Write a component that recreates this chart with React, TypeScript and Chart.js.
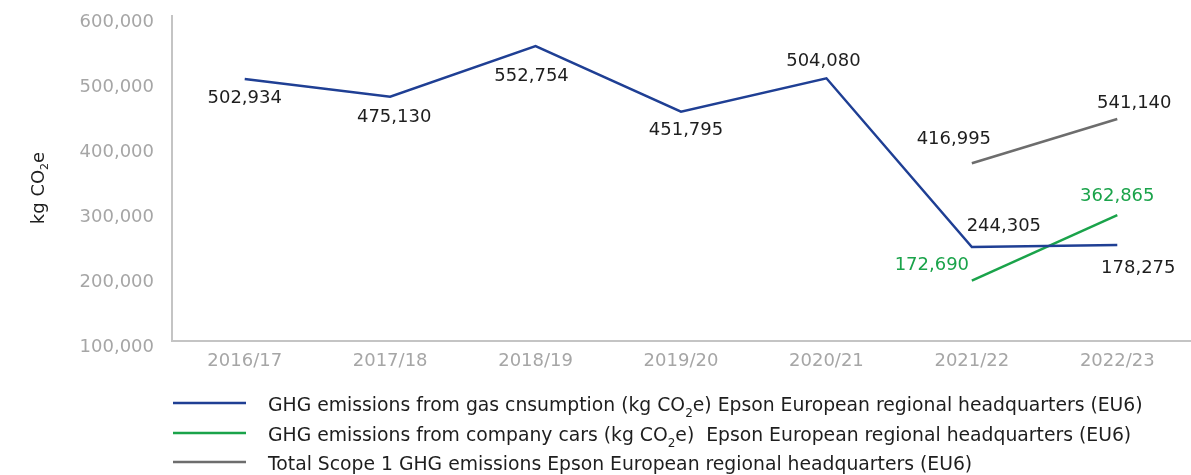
import React, { useEffect, useRef } from 'react';
import { Chart, registerables } from 'chart.js';

Chart.register(...registerables);

// ---------- data ----------
const categories = ['2016/17', '2017/18', '2018/19', '2019/20', '2020/21', '2021/22', '2022/23'];

const gasValues = [503000, 475800, 553800, 452800, 504200, 244600, 247700];
const carValues = [null, null, null, null, null, 192800, 293800];
const totalValues = [null, null, null, null, null, 373400, 441500];

// data labels as printed on the reference
const gasLabels = ['502,934', '475,130', '552,754', '451,795', '504,080', '244,305', '178,275'];
const carLabels = [null, null, null, null, null, '172,690', '362,865'];
const totalLabels = [null, null, null, null, null, '416,995', '541,140'];

const yMin = 100000;
const yMax = 600000;
const yStep = 100000;

const yAxisTitle = 'kg CO₂e';
const seriesNames = [
  'GHG emissions from gas cnsumption (kg CO₂e) Epson European regional headquarters (EU6)',
  'GHG emissions from company cars (kg CO₂e)  Epson European regional headquarters (EU6)',
  'Total Scope 1 GHG emissions Epson European regional headquarters (EU6)',
];

// ---------- styles ----------
const FONT = '"DejaVu Sans", sans-serif';
const BLUE = '#1f3f94';
const GREEN = '#1aa34a';
const GRAY = '#6d6d6d';
const AXIS = '#c4c4c4';
const TICK = '#a6a6a6';
const TEXT = '#1e1e1e';

// label offsets [dx, dy] from each point (layout only)
const gasOffsets: [number, number][] = [[0, 19], [4, 21], [-4, 30], [5, 19], [-3, -17], [32, -21], [21, 23]];
const carOffsets: [number, number][] = [[0, 0], [0, 0], [0, 0], [0, 0], [0, 0], [-40, -15], [0, -19]];
const totalOffsets: [number, number][] = [[0, 0], [0, 0], [0, 0], [0, 0], [0, 0], [-18, -24], [17, -16]];

const seriesColors = [BLUE, GREEN, GRAY];
const labelColors = [TEXT, GREEN, TEXT];
const seriesLabels = [gasLabels, carLabels, totalLabels];
const seriesOffsets = [gasOffsets, carOffsets, totalOffsets];

function drawRich(ctx: CanvasRenderingContext2D, text: string, x: number, y: number, size: number) {
  // draws text, rendering '₂' as a smaller subscript 2
  const parts = text.split('₂');
  let cx = x;
  parts.forEach((p, i) => {
    ctx.font = `${size}px ${FONT}`;
    ctx.fillText(p, cx, y);
    cx += ctx.measureText(p).width;
    if (i < parts.length - 1) {
      const s = Math.round(size * 0.62);
      ctx.font = `${s}px ${FONT}`;
      ctx.fillText('2', cx, y + size * 0.32);
      cx += ctx.measureText('2').width;
    }
  });
  return cx - x;
}

function richWidth(ctx: CanvasRenderingContext2D, text: string, size: number) {
  const parts = text.split('₂');
  let w = 0;
  parts.forEach((p, i) => {
    ctx.font = `${size}px ${FONT}`;
    w += ctx.measureText(p).width;
    if (i < parts.length - 1) {
      ctx.font = `${Math.round(size * 0.62)}px ${FONT}`;
      w += ctx.measureText('2').width;
    }
  });
  return w;
}

const overlayPlugin = {
  id: 'overlay',
  afterDatasetsDraw(chart: any) {
    const ctx: CanvasRenderingContext2D = chart.ctx;
    ctx.save();
    // data labels
    ctx.textAlign = 'center';
    ctx.textBaseline = 'middle';
    ctx.font = `18px ${FONT}`;
    seriesLabels.forEach((labels, di) => {
      const meta = chart.getDatasetMeta(di);
      labels.forEach((lab, i) => {
        if (!lab) return;
        const pt = meta.data[i];
        if (!pt) return;
        const [dx, dy] = seriesOffsets[di][i];
        ctx.fillStyle = labelColors[di];
        ctx.fillText(lab, pt.x + dx, pt.y + dy);
      });
    });

    // y axis title (rotated)
    ctx.save();
    ctx.translate(39, 188);
    ctx.rotate(-Math.PI / 2);
    ctx.textAlign = 'left';
    ctx.textBaseline = 'middle';
    ctx.fillStyle = TEXT;
    const tw = richWidth(ctx, yAxisTitle, 18);
    drawRich(ctx, yAxisTitle, -tw / 2, 0, 18);
    ctx.restore();

    // legend
    const lineRows = [403, 433, 462];
    const textBase = [411, 441, 470];
    seriesNames.forEach((name, i) => {
      ctx.strokeStyle = seriesColors[i];
      ctx.lineWidth = 2.5;
      ctx.beginPath();
      ctx.moveTo(173, lineRows[i]);
      ctx.lineTo(246, lineRows[i]);
      ctx.stroke();
      ctx.fillStyle = TEXT;
      ctx.textAlign = 'left';
      ctx.textBaseline = 'alphabetic';
      drawRich(ctx, name, 268, textBase[i], 18.8);
    });
    ctx.restore();
  },
};

export default function App() {
  const canvasRef = useRef<HTMLCanvasElement | null>(null);

  useEffect(() => {
    document.body.style.margin = '0';
    const canvas = canvasRef.current;
    if (!canvas) return;
    const mk = (label: string, data: (number | null)[], color: string) => ({
      label,
      data,
      borderColor: color,
      backgroundColor: color,
      borderWidth: 2.5,
      pointRadius: 0,
      pointHoverRadius: 0,
      tension: 0,
      spanGaps: false,
      fill: false,
    });
    const chart = new Chart(canvas, {
      type: 'line',
      data: {
        labels: categories,
        datasets: [
          mk(seriesNames[0], gasValues, BLUE),
          mk(seriesNames[1], carValues, GREEN),
          mk(seriesNames[2], totalValues, GRAY),
        ],
      },
      options: {
        animation: false,
        responsive: true,
        maintainAspectRatio: false,
        layout: { padding: { top: 16, right: 1, left: 0, bottom: 0 } },
        plugins: { legend: { display: false }, tooltip: { enabled: false } },
        scales: {
          x: {
            offset: true,
            grid: { display: false, drawTicks: false },
            border: { display: true, color: AXIS, width: 2 },
            ticks: { color: TICK, font: { family: FONT, size: 18 }, padding: 10, maxRotation: 0, autoSkip: false },
            afterFit: (s: any) => { s.height = 134; s.paddingLeft = 0; s.paddingRight = 0; },
          },
          y: {
            min: yMin,
            max: yMax,
            grid: { display: false, drawTicks: false },
            border: { display: true, color: AXIS, width: 2 },
            ticks: {
              stepSize: yStep,
              color: TICK,
              font: { family: FONT, size: 18 },
              padding: 18,
              labelOffset: 6,
              callback: (v: any) => Number(v).toLocaleString('en-US'),
            },
            afterFit: (s: any) => { s.width = 172; s.paddingTop = 0; s.paddingBottom = 0; },
          },
        },
      },
      plugins: [overlayPlugin],
    });
    return () => chart.destroy();
  }, []);

  return (
    <div style={{ position: 'fixed', left: 0, top: 0, width: 1191, height: 475 }}>
      <canvas ref={canvasRef} />
    </div>
  );
}
